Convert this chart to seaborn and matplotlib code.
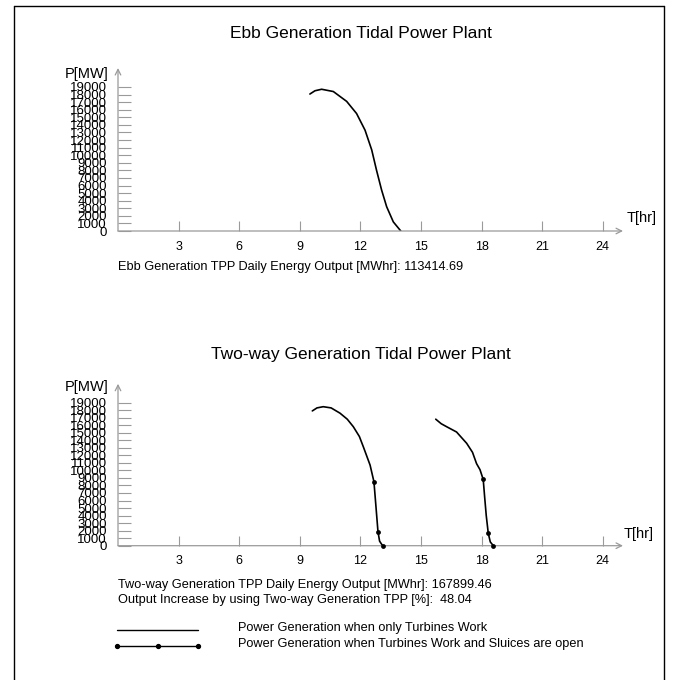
import matplotlib
matplotlib.use("Agg")
import matplotlib.pyplot as plt
from matplotlib.lines import Line2D
import seaborn as sns

# ---- data ----
ebb_t = [9.50, 9.75, 10.08, 10.66, 11.32, 11.81, 12.23, 12.56, 12.80, 13.05, 13.30, 13.63, 14.0]
ebb_p = [18070, 18500, 18700, 18400, 17100, 15500, 13300, 10700, 8000, 5400, 3200, 1200, 0]

tw1_turb_t = [9.62, 9.85, 10.16, 10.55, 10.99, 11.35, 11.65, 11.95, 12.15, 12.48, 12.67]
tw1_turb_p = [17900, 18300, 18460, 18300, 17600, 16800, 15800, 14500, 13100, 10700, 8500]
tw1_sluice_t = [12.67, 12.77, 12.87, 12.95, 13.10]
tw1_sluice_p = [8500, 5200, 1860, 600, 0]
tw1_dots_t = [12.67, 12.87, 13.10]
tw1_dots_p = [8500, 1860, 0]

tw2_turb_t = [15.73, 16.0, 16.27, 16.76, 17.26, 17.55, 17.75, 17.92, 18.08]
tw2_turb_p = [16800, 16200, 15800, 15100, 13600, 12400, 10900, 10100, 8800]
tw2_sluice_t = [18.08, 18.15, 18.23, 18.33, 18.43, 18.58]
tw2_sluice_p = [8800, 6500, 4000, 1650, 500, 0]
tw2_dots_t = [18.08, 18.33, 18.58]
tw2_dots_p = [8800, 1650, 0]

x_ticks = [3, 6, 9, 12, 15, 18, 21, 24]
y_ticks = list(range(0, 20000, 1000))

titles = ["Ebb Generation Tidal Power Plant", "Two-way Generation Tidal Power Plant"]
ebb_text = "Ebb Generation TPP Daily Energy Output [MWhr]: 113414.69"
tw_text1 = "Two-way Generation TPP Daily Energy Output [MWhr]: 167899.46"
tw_text2 = "Output Increase by using Two-way Generation TPP [%]:  48.04"
legend_labels = ["Power Generation when only Turbines Work",
                 "Power Generation when Turbines Work and Sluices are open"]

sns.set_theme(style="white")
plt.rcParams['font.family'] = ['Liberation Sans', 'DejaVu Sans']

W, H = 684, 680
fig = plt.figure(figsize=(W / 100, H / 100), dpi=100)
fig.patch.set_facecolor("white")

def fx(px):
    return px / W

def fy(py):
    return 1 - py / H

GRAY = "#9a9a9a"
XMAX, YMAX = 25.0, 21500

def make_axes(y0_px, px_per_k):
    top_px = y0_px - YMAX / 1000 * px_per_k
    left, right = 118, 118 + 20.2 * XMAX
    ax = fig.add_axes([fx(left), fy(y0_px), fx(right - left), (y0_px - top_px) / H])
    ax.set_xlim(0, XMAX)
    ax.set_ylim(0, YMAX)
    for s in ax.spines.values():
        s.set_visible(False)
    ax.set_facecolor("none")
    ax.set_xticks(x_ticks)
    ax.set_xticklabels([str(v) for v in x_ticks])
    ax.set_yticks(y_ticks)
    ax.set_yticklabels([str(v) for v in y_ticks])
    ax.tick_params(axis="x", direction="in", length=7, width=0.8, color=GRAY,
                   labelsize=9, pad=7, labelcolor="black", bottom=True)
    ax.tick_params(axis="y", direction="in", length=9, width=0.8, color=GRAY,
                   labelsize=9.5, pad=8, labelcolor="black", left=True)
    ax.set_xlabel("")
    ax.set_ylabel("")
    ax.annotate("", xy=(1.0, 0), xytext=(0, 0), xycoords="axes fraction",
                arrowprops=dict(arrowstyle="->", color=GRAY, lw=0.9,
                                mutation_scale=10, shrinkA=0, shrinkB=0))
    ax.annotate("", xy=(0, 1.0), xytext=(0, 0), xycoords="axes fraction",
                arrowprops=dict(arrowstyle="->", color=GRAY, lw=0.9,
                                mutation_scale=10, shrinkA=0, shrinkB=0))
    ax.grid(False)
    return ax

ax1 = make_axes(231, 7.58)
ax2 = make_axes(545.7, 7.53)

LW = 1.2
sns.lineplot(x=ebb_t, y=ebb_p, ax=ax1, color="black", lw=LW, sort=False, estimator=None)

for tt, pp in [(tw1_turb_t, tw1_turb_p), (tw1_sluice_t, tw1_sluice_p),
               (tw2_turb_t, tw2_turb_p), (tw2_sluice_t, tw2_sluice_p)]:
    sns.lineplot(x=tt, y=pp, ax=ax2, color="black", lw=LW, sort=False, estimator=None)
for tt, pp in [(tw1_dots_t, tw1_dots_p), (tw2_dots_t, tw2_dots_p)]:
    sns.scatterplot(x=tt, y=pp, ax=ax2, color="black", s=12, edgecolor="black",
                    linewidth=0, zorder=5, clip_on=False)

for ax in (ax1, ax2):
    ax.set_xlim(0, XMAX)
    ax.set_ylim(0, YMAX)

fig.text(fx(108), fy(74), "P[MW]", ha="right", va="center", fontsize=10.5, color="black")
fig.text(fx(108), fy(387), "P[MW]", ha="right", va="center", fontsize=10.5, color="black")
fig.text(fx(627), fy(218), "T[hr]", ha="left", va="center", fontsize=10.5, color="black")
fig.text(fx(624), fy(534), "T[hr]", ha="left", va="center", fontsize=10.5, color="black")

fig.text(fx(361), fy(33), titles[0], ha="center", va="center", fontsize=12.5, color="black")
fig.text(fx(361), fy(354), titles[1], ha="center", va="center", fontsize=12.5, color="black")

fig.text(fx(118), fy(267), ebb_text, ha="left", va="center", fontsize=9.2, color="black")
fig.text(fx(118), fy(585), tw_text1, ha="left", va="center", fontsize=9.2, color="black")
fig.text(fx(118), fy(600), tw_text2, ha="left", va="center", fontsize=9.2, color="black")

fig.add_artist(Line2D([fx(117), fx(198)], [fy(630), fy(630)], color="black", lw=1.0))
fig.add_artist(Line2D([fx(117), fx(157.5), fx(198)], [fy(646), fy(646), fy(646)],
                      color="black", lw=1.0, marker="o", markersize=2.8))
fig.text(fx(238), fy(628), legend_labels[0], ha="left", va="center", fontsize=9.2, color="black")
fig.text(fx(238), fy(644), legend_labels[1], ha="left", va="center", fontsize=9.2, color="black")

fig.add_artist(Line2D([fx(14), fx(14)], [fy(6), fy(680)], color="black", lw=1.0))
fig.add_artist(Line2D([fx(14), fx(664)], [fy(6), fy(6)], color="black", lw=1.0))
fig.add_artist(Line2D([fx(664), fx(664)], [fy(6), fy(680)], color="black", lw=1.0))

fig.savefig("out.png", dpi=100, facecolor="white")
